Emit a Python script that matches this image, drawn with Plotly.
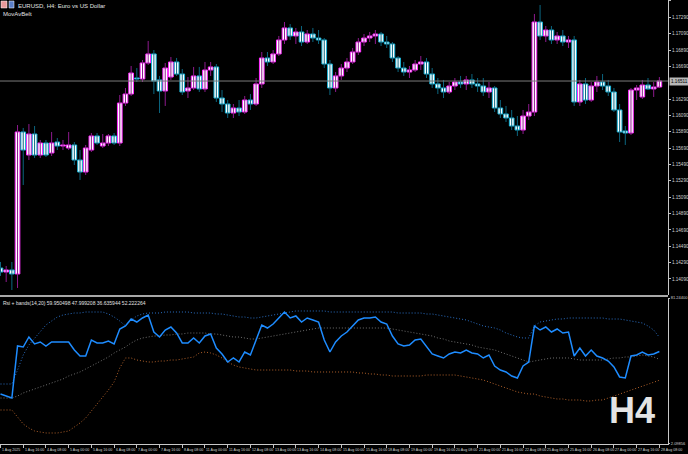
import plotly.graph_objects as go

# ---------------- data (EURUSD H4, 1 Aug 2025 -> 28 Aug 2025) ----------------
opens = [1.14224,1.14175,1.14200,1.14151,1.15888,1.15606,1.15863,1.15606,1.15753,1.15631,
         1.15765,1.15716,1.15692,1.15729,1.15545,1.15398,1.15667,1.15839,1.15716,1.15753,
         1.15839,1.15753,1.16242,1.16352,1.16548,1.16536,1.16732,1.16842,1.16524,1.16389,
         1.16560,1.16744,1.16597,1.16389,1.16426,1.16573,1.16414,1.16646,1.16683,1.16303,
         1.16230,1.16120,1.16181,1.16132,1.16279,1.16230,1.16475,1.16793,1.16744,1.16842,
         1.17013,1.17160,1.17062,1.17111,1.16988,1.17086,1.17037,1.17013,1.16719,1.16426,
         1.16573,1.16670,1.16744,1.16866,1.16988,1.17037,1.17062,1.17086,1.16988,1.16964,
         1.16793,1.16670,1.16621,1.16646,1.16719,1.16744,1.16597,1.16475,1.16426,1.16377,
         1.16450,1.16499,1.16475,1.16524,1.16475,1.16450,1.16377,1.16426,1.16181,1.16108,
         1.16059,1.15961,1.15912,1.16083,1.16132,1.17233,1.17062,1.17135,1.17013,1.17062,
         1.16988,1.17013,1.16255,1.16475,1.16279,1.16450,1.16499,1.16450,1.16377,1.16157,
         1.15900,1.15875,1.16401,1.16316,1.16462,1.16414,1.16438]
highs = [1.14298,1.14249,1.14298,1.15973,1.15937,1.15985,1.15961,1.15790,1.15790,1.15888,
         1.15814,1.15790,1.15888,1.15765,1.15667,1.15729,1.15875,1.15875,1.15863,1.15863,
         1.15875,1.16340,1.16426,1.16695,1.16670,1.16768,1.17001,1.16890,1.16573,1.16732,
         1.16805,1.16793,1.16658,1.16560,1.16683,1.16683,1.16744,1.16744,1.16719,1.16401,
         1.16279,1.16230,1.16279,1.16328,1.16352,1.16548,1.16866,1.16866,1.16890,1.17062,
         1.17233,1.17208,1.17160,1.17184,1.17135,1.17160,1.17135,1.17037,1.16768,1.16621,
         1.16719,1.16793,1.16915,1.17037,1.17086,1.17111,1.17135,1.17111,1.17062,1.16988,
         1.16817,1.16744,1.16695,1.16768,1.16817,1.16793,1.16670,1.16548,1.16524,1.16499,
         1.16548,1.16573,1.16573,1.16597,1.16548,1.16548,1.16499,1.16450,1.16279,1.16206,
         1.16157,1.16083,1.16157,1.16230,1.17331,1.17441,1.17184,1.17184,1.17111,1.17135,
         1.17062,1.17062,1.16524,1.16548,1.16499,1.16573,1.16597,1.16524,1.16426,1.16230,
         1.15961,1.16426,1.16462,1.16524,1.16548,1.16499,1.16560]
lows = [1.14127,1.14053,1.13955,1.13980,1.15239,1.15545,1.15570,1.15570,1.15582,1.15594,
        1.15667,1.15667,1.15667,1.15484,1.15301,1.15362,1.15643,1.15729,1.15692,1.15716,
        1.15729,1.15716,1.16206,1.16328,1.16499,1.16499,1.16707,1.16352,1.16120,1.16206,
        1.16524,1.16573,1.16340,1.16303,1.16401,1.16377,1.16377,1.16573,1.16255,1.16132,
        1.16059,1.16059,1.16083,1.16108,1.16157,1.16206,1.16426,1.16695,1.16719,1.16817,
        1.16964,1.17013,1.16964,1.16939,1.16964,1.16988,1.16964,1.16670,1.16340,1.16377,
        1.16524,1.16621,1.16719,1.16829,1.16939,1.16988,1.16964,1.16939,1.16915,1.16744,
        1.16621,1.16573,1.16548,1.16621,1.16646,1.16548,1.16426,1.16352,1.16303,1.16352,
        1.16401,1.16426,1.16401,1.16426,1.16377,1.16328,1.16303,1.16132,1.16059,1.16010,
        1.15912,1.15839,1.15863,1.16034,1.16083,1.17013,1.16988,1.16964,1.16964,1.16939,
        1.16915,1.16206,1.16206,1.16230,1.16255,1.16377,1.16401,1.16328,1.16132,1.15765,
        1.15729,1.15851,1.16279,1.16291,1.16401,1.16316,1.16426]
closes = [1.14175,1.14200,1.14151,1.15888,1.15667,1.15863,1.15606,1.15753,1.15606,1.15753,
          1.15716,1.15729,1.15729,1.15545,1.15398,1.15692,1.15839,1.15753,1.15753,1.15839,
          1.15753,1.16242,1.16352,1.16609,1.16536,1.16732,1.16842,1.16511,1.16389,1.16670,
          1.16744,1.16597,1.16377,1.16426,1.16573,1.16414,1.16646,1.16683,1.16303,1.16230,
          1.16120,1.16181,1.16132,1.16279,1.16230,1.16475,1.16793,1.16744,1.16842,1.17013,
          1.17160,1.17062,1.17111,1.16988,1.17086,1.17037,1.17013,1.16719,1.16426,1.16573,
          1.16670,1.16744,1.16866,1.16988,1.17037,1.17062,1.17086,1.16988,1.16964,1.16793,
          1.16670,1.16621,1.16646,1.16719,1.16744,1.16597,1.16475,1.16426,1.16377,1.16450,
          1.16499,1.16475,1.16524,1.16475,1.16450,1.16377,1.16426,1.16181,1.16108,1.16059,
          1.15961,1.15912,1.16083,1.16132,1.17233,1.17062,1.17135,1.17013,1.17062,1.16988,
          1.17013,1.16255,1.16475,1.16279,1.16450,1.16499,1.16450,1.16377,1.16157,1.15888,
          1.15875,1.16401,1.16426,1.16462,1.16414,1.16438,1.16511]

rsi = [29.20,28.12,27.03,55.22,54.68,60.10,56.31,57.39,55.22,57.39,
       57.39,57.39,57.39,53.05,49.80,49.80,58.48,56.85,56.85,57.93,
       56.31,64.44,66.07,69.86,68.23,70.40,72.03,62.81,60.10,63.90,
       65.52,62.27,56.85,56.85,59.56,56.85,60.64,61.73,54.14,50.89,
       46.55,48.72,46.55,51.97,50.34,58.48,66.61,64.98,67.15,70.40,
       73.65,70.40,71.49,68.23,70.40,69.32,68.23,58.48,51.97,57.39,
       60.64,62.81,66.07,69.32,70.40,70.40,70.94,68.23,67.15,60.64,
       56.31,55.22,55.77,58.48,59.02,55.22,50.89,49.80,48.72,50.89,
       51.97,51.43,53.05,51.43,50.89,48.72,50.34,44.38,42.21,41.13,
       38.96,37.88,44.38,46.55,66.07,63.90,65.52,62.81,64.44,62.27,
       62.81,49.80,54.14,49.80,53.05,49.80,48.72,47.09,43.84,38.42,
       37.88,49.80,50.34,51.97,50.34,50.89,52.22]
bb_upper = [34.62,34.62,34.62,42.21,50.34,55.77,59.56,62.81,66.61,68.78,
            70.94,72.03,72.57,73.11,73.11,73.65,73.65,73.65,73.65,72.57,
            70.94,68.78,66.07,69.32,71.49,72.57,73.11,73.11,73.11,73.65,
            73.65,73.65,73.65,73.65,73.11,73.11,73.11,73.11,72.57,72.57,
            72.03,71.49,70.94,70.94,70.40,70.40,70.94,71.49,72.03,72.57,
            73.11,73.65,74.20,74.20,74.20,74.20,74.20,74.20,73.65,73.65,
            73.65,73.65,73.65,73.65,73.65,73.65,73.65,73.65,73.65,73.65,
            73.11,73.11,73.11,73.11,73.11,72.57,72.57,72.03,71.49,70.94,
            70.40,69.86,69.32,68.23,67.15,66.07,65.52,64.98,63.90,62.27,
            61.19,60.10,59.56,59.56,66.07,68.23,68.78,69.32,69.86,69.86,
            70.40,70.40,70.40,70.40,70.40,70.40,70.40,69.86,69.86,69.86,
            69.32,68.78,68.23,67.69,66.07,63.90,59.95]
bb_middle = [27.03,27.03,27.03,28.12,29.74,30.83,31.91,33.00,34.08,35.16,
             36.25,37.33,38.96,40.04,41.13,42.75,44.38,46.01,47.63,49.26,
             51.43,53.05,54.68,56.85,58.48,59.56,60.10,60.64,60.64,61.19,
             61.19,61.73,61.73,62.27,62.27,62.27,62.27,61.73,61.73,61.19,
             60.64,60.10,60.10,59.56,59.02,59.02,59.56,60.10,60.64,61.19,
             61.73,62.27,62.81,63.35,63.90,64.44,64.98,64.98,64.98,64.98,
             64.98,64.98,64.98,64.98,64.98,64.98,64.98,64.98,64.98,64.44,
             63.90,63.35,62.81,62.27,61.73,61.19,60.64,59.56,59.02,57.93,
             57.39,56.85,56.31,55.77,54.68,54.14,53.60,53.05,51.97,50.89,
             49.80,48.72,47.63,46.55,47.09,47.63,48.18,48.72,48.72,48.72,
             48.72,48.18,47.63,47.63,47.63,47.63,47.63,48.18,48.72,48.72,
             49.26,49.26,49.80,50.34,49.80,49.26,47.99]
bb_lower = [20.53,20.53,20.53,16.73,12.94,10.77,9.15,8.60,8.06,8.06,
            8.06,8.60,9.15,11.31,13.48,16.19,19.99,23.24,27.03,31.37,
            35.71,43.30,48.72,48.72,47.63,47.09,46.55,46.55,47.09,47.09,
            47.63,47.63,48.18,48.72,49.26,51.43,51.97,51.43,50.34,48.72,
            46.55,44.92,43.84,43.30,42.75,42.21,42.21,42.21,42.21,42.21,
            42.21,42.21,41.67,41.67,41.67,41.13,41.13,41.13,41.13,41.13,
            41.13,41.13,41.13,40.59,40.59,40.04,40.04,39.50,39.50,38.96,
            38.96,38.96,38.96,38.96,38.96,39.50,39.50,39.50,39.50,39.50,
            39.50,38.96,38.42,37.88,37.33,36.79,35.71,34.62,33.54,32.46,
            31.37,30.29,29.74,29.20,29.20,28.12,27.58,27.03,26.49,26.49,
            25.95,25.95,25.95,25.41,25.41,25.95,25.95,27.03,28.12,29.20,
            30.29,31.37,32.46,33.54,34.62,35.71,36.64]

price_tick_values = [1.17490,1.17290,1.17090,1.16890,1.16690,1.16290,1.16090,1.15890,
                     1.15690,1.15490,1.15290,1.15090,1.14890,1.14690,1.14490,1.14290,1.14090]
price_tick_labels = ["1.17490","1.17290","1.17090","1.16890","1.16690","1.16290","1.16090","1.15890",
                     "1.15690","1.15490","1.15290","1.15090","1.14890","1.14690","1.14490","1.14290","1.14090"]
date_tick_labels = ["1 Aug 2025","1 Aug 16:00","4 Aug 08:00","5 Aug 00:00","5 Aug 16:00","6 Aug 08:00",
                    "7 Aug 00:00","7 Aug 16:00","8 Aug 08:00","11 Aug 00:00","11 Aug 16:00","12 Aug 08:00",
                    "13 Aug 00:00","13 Aug 16:00","14 Aug 08:00","15 Aug 00:00","15 Aug 16:00","18 Aug 08:00",
                    "19 Aug 00:00","19 Aug 16:00","20 Aug 08:00","21 Aug 00:00","21 Aug 16:00","22 Aug 08:00",
                    "25 Aug 00:00","25 Aug 16:00","26 Aug 08:00","27 Aug 00:00","27 Aug 16:00","28 Aug 08:00"]
bars_per_label = 4
rsi_scale_labels = ["81.24400", "2.09856"]
rsi_scale_values = [81.244, 2.09856]
rsi_header = "Rsi + bands(14,20) 59.950498 47.999208 36.635944 52.222264"
symbol_header = "EURUSD, H4: Euro vs US Dollar"
indicator_header = "MovAvBelt"
timeframe = "H4"

# ---------------- figure ----------------
W, H = 688, 454
MB = 10
PH = H - MB
PLOT_R = 668
n = len(opens)
idx = list(range(n))
date_tick_bars = [k * bars_per_label for k in range(len(date_tick_labels))]

BULL_EDGE, BULL_WICK = "#ff2cff", "#8e1a8e"
BEAR_EDGE, BEAR_WICK = "#18b4d8", "#0b6680"
FONT = "Liberation Sans, Arial, sans-serif"

fig = go.Figure()

for bull, wick_col in ((True, BULL_WICK), (False, BEAR_WICK)):
    wx, wy = [], []
    for i in idx:
        if (closes[i] >= opens[i]) == bull:
            wx += [i, i, None]
            wy += [lows[i], highs[i], None]
    fig.add_trace(go.Scatter(x=wx, y=wy, mode="lines", line=dict(color=wick_col, width=1),
                             xaxis="x", yaxis="y", hoverinfo="skip"))

for bull, edge in ((True, BULL_EDGE), (False, BEAR_EDGE)):
    bx, bbase, bh = [], [], []
    for i in idx:
        if (closes[i] >= opens[i]) == bull:
            bx.append(i)
            bbase.append(min(opens[i], closes[i]))
            bh.append(max(abs(closes[i] - opens[i]), 0.00004))
    fig.add_trace(go.Bar(x=bx, y=bh, base=bbase, width=0.82,
                         marker=dict(color="#ffffff", line=dict(color=edge, width=1)),
                         xaxis="x", yaxis="y", hoverinfo="skip"))

# RSI window
fig.add_trace(go.Scatter(x=idx, y=bb_upper, mode="lines", line=dict(color="#2a6fc4", width=1, dash="1px,2px"),
                         xaxis="x2", yaxis="y2"))
fig.add_trace(go.Scatter(x=idx, y=bb_middle, mode="lines", line=dict(color="#707070", width=1, dash="1px,2px"),
                         xaxis="x2", yaxis="y2"))
fig.add_trace(go.Scatter(x=idx, y=bb_lower, mode="lines", line=dict(color="#b0602a", width=1, dash="1px,2px"),
                         xaxis="x2", yaxis="y2"))
fig.add_trace(go.Scatter(x=idx, y=rsi, mode="lines", line=dict(color="#1e8cff", width=1.5),
                         xaxis="x2", yaxis="y2"))

xdom = [0, PLOT_R / W]
main_dom = [1 - 295 / PH, 1]
sub_dom = [0, 1 - 298 / PH]
xr = [-0.088, 117.52]
tickfont = dict(size=4.6, color="#d0d0d0", family=FONT)
subfont = dict(size=4.0, color="#d0d0d0", family=FONT)
datefont = dict(size=3.6, color="#d0d0d0", family=FONT)

fig.update_layout(
    width=W, height=H, margin=dict(l=0, r=0, t=0, b=MB),
    paper_bgcolor="#000000", plot_bgcolor="#000000",
    showlegend=False, hovermode=False, barmode="overlay",
    xaxis=dict(domain=xdom, anchor="y", range=xr, showticklabels=False, showgrid=False,
               zeroline=False, showline=False, ticks=""),
    yaxis=dict(domain=main_dom, anchor="x", range=[1.13894, 1.17502], side="right",
               tickvals=price_tick_values, ticktext=price_tick_labels, tickfont=tickfont,
               ticks="outside", ticklen=2, tickcolor="#c0c0c0", showgrid=False, zeroline=False,
               showline=True, linecolor="#c8c8c8", linewidth=1, automargin=False),
    xaxis2=dict(domain=xdom, anchor="y2", range=xr, tickvals=date_tick_bars, showticklabels=False,
                ticks="outside", ticklen=3, tickcolor="#c0c0c0", showgrid=False, zeroline=False,
                showline=True, linecolor="#c8c8c8", linewidth=1, automargin=False),
    yaxis2=dict(domain=sub_dom, anchor="x2", range=[2.09, 81.244], side="right",
                tickvals=rsi_scale_values, ticktext=rsi_scale_labels, tickfont=subfont,
                ticks="outside", ticklen=1, tickcolor="#c0c0c0", showgrid=False, zeroline=False,
                showline=True, linecolor="#c8c8c8", linewidth=1, automargin=False),
)

# date labels, left-aligned at their tick as in MetaTrader
for b, lab in zip(date_tick_bars, date_tick_labels):
    fig.add_annotation(x=b, xref="x2", y=-6 / PH, yref="paper", xanchor="left", yanchor="middle",
                       xshift=0.5, text=lab, showarrow=False, font=datefont, borderpad=0)

# separator between windows
fig.add_shape(type="line", xref="paper", yref="paper", x0=0, x1=PLOT_R / W,
              y0=1 - 296 / PH, y1=1 - 296 / PH, line=dict(color="#a8a8a8", width=2))
# current price line + label
last = closes[-1]
fig.add_shape(type="line", xref="paper", yref="y", x0=0, x1=PLOT_R / W, y0=last, y1=last,
              line=dict(color="#7a7a7a", width=1))
fig.add_annotation(x=PLOT_R / W, xref="paper", y=last, yref="y", xanchor="left", yanchor="middle",
                   xshift=1, text=f"{last:.5f}", showarrow=False, bgcolor="#b8b8b8", borderpad=1,
                   font=dict(size=4.6, color="#000000", family=FONT))

# headers
fig.add_shape(type="rect", xref="paper", yref="paper", x0=1 / W, x1=7 / W, y0=1 - 8 / PH, y1=1 - 1 / PH,
              fillcolor="#e79a9a", line=dict(color="#ffffff", width=0.5))
fig.add_shape(type="rect", xref="paper", yref="paper", x0=9 / W, x1=14 / W, y0=1 - 8 / PH, y1=1 - 1 / PH,
              fillcolor="#5b7fc8", line=dict(color="#ffffff", width=0.5))
fig.add_annotation(x=16 / W, y=1 - 1 / PH, xref="paper", yref="paper", xanchor="left", yanchor="top",
                   text=symbol_header, showarrow=False,
                   font=dict(size=6, color="#e0e0e0", family=FONT))
fig.add_annotation(x=1 / W, y=1 - 9 / PH, xref="paper", yref="paper", xanchor="left", yanchor="top",
                   text=indicator_header, showarrow=False,
                   font=dict(size=6, color="#e0e0e0", family=FONT))
fig.add_annotation(x=1 / W, y=1 - 298 / PH, xref="paper", yref="paper", xanchor="left", yanchor="top",
                   text=rsi_header, showarrow=False,
                   font=dict(size=5, color="#e0e0e0", family=FONT))
fig.add_annotation(x=632 / W, y=1 - 410 / PH, xref="paper", yref="paper", xanchor="center", yanchor="middle",
                   text=f"<b>{timeframe}</b>", showarrow=False,
                   font=dict(size=36, color="#e4e4e4", family="Liberation Sans, Arial"))

fig.write_html("out.html", config={"displayModeBar": False},
               post_script="document.body.style.margin='0';document.body.style.overflow='hidden';")
